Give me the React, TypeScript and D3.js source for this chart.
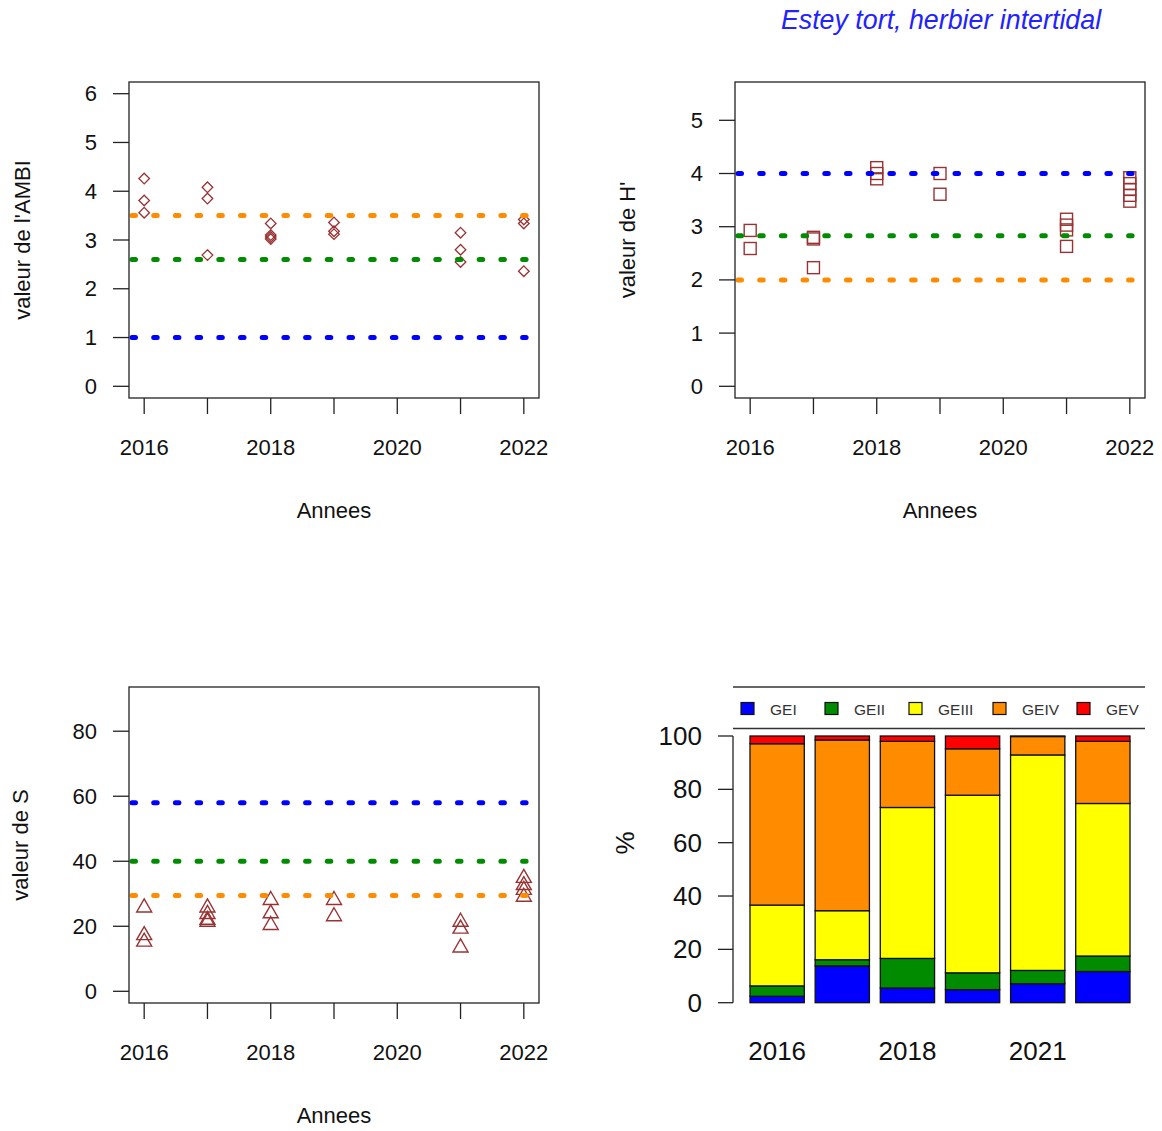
import React from "react";
import * as d3 from "d3";

// ---------- DATA ----------
const ambiYears = [2016, 2016, 2016, 2017, 2017, 2017, 2018, 2018, 2018, 2018, 2019, 2019, 2019, 2021, 2021, 2021, 2022, 2022, 2022];
const ambiValues = [4.26, 3.81, 3.56, 4.08, 3.85, 2.69, 3.34, 3.10, 3.06, 3.02, 3.36, 3.18, 3.12, 3.15, 2.80, 2.55, 3.42, 3.34, 2.36];
const ambiRefs = [3.5, 2.6, 1.0];

const hYears = [2016, 2016, 2017, 2017, 2017, 2018, 2018, 2018, 2019, 2019, 2021, 2021, 2021, 2021, 2022, 2022, 2022, 2022, 2022];
const hValues = [2.93, 2.59, 2.80, 2.77, 2.23, 4.11, 4.00, 3.90, 4.00, 3.61, 3.14, 3.03, 2.94, 2.63, 3.92, 3.81, 3.70, 3.59, 3.48];
const hRefs = [4.0, 2.83, 2.0];

const sYears = [2016, 2016, 2016, 2017, 2017, 2017, 2017, 2018, 2018, 2018, 2019, 2019, 2021, 2021, 2021, 2022, 2022, 2022, 2022];
const sValues = [26.0, 17.5, 15.5, 26.0, 24.0, 22.2, 21.6, 28.3, 24.2, 20.6, 28.3, 23.3, 21.6, 19.5, 13.7, 35.1, 32.9, 31.4, 29.3];
const sRefs = [58, 40, 29.5];

const refColors = ["#FF8C00", "#008B00", "#0000FF"]; // AMBI order
const hRefColors = ["#0000FF", "#008B00", "#FF8C00"];
const sRefColors = ["#0000FF", "#008B00", "#FF8C00"];

const scatterYearTicks = [2016, 2017, 2018, 2019, 2020, 2021, 2022];
const scatterYearLabels = [2016, 2018, 2020, 2022];

const barYears = ["2016", "2017", "2018", "2019", "2021", "2022"];
const groupNames = ["GEI", "GEII", "GEIII", "GEIV", "GEV"];
const groupColors = ["#0000FF", "#008B00", "#FFFF00", "#FF8C00", "#FF0000"];
const GEI = [2.4, 13.8, 5.5, 4.9, 7.1, 11.7];
const GEII = [3.9, 2.3, 11.1, 6.3, 5.0, 5.8];
const GEIII = [30.3, 18.4, 56.6, 66.6, 80.8, 57.2];
const GEIV = [60.5, 64.0, 24.8, 17.4, 6.9, 23.3];
const GEV = [2.9, 1.5, 2.0, 4.8, 0.2, 2.0];
const barTicks = [0, 20, 40, 60, 80, 100];

const title = "Estey tort, herbier intertidal";

// ---------- STYLE ----------
const FONT = "'Liberation Sans', Arial, sans-serif";
const PT = "#993333";
const AX = "#222";
const FS = 22;

type Box = { left: number; right: number; top: number; bottom: number };

function Marker({ shape, x, y }: { shape: string; x: number; y: number }) {
  if (shape === "diamond") {
    const r = 5.3;
    return <path d={`M${x},${y - r}L${x + r},${y}L${x},${y + r}L${x - r},${y}Z`} fill="none" stroke={PT} strokeWidth={1.3} />;
  }
  if (shape === "square") {
    const r = 6;
    return <rect x={x - r} y={y - r} width={2 * r} height={2 * r} fill="none" stroke={PT} strokeWidth={1.4} />;
  }
  const w = 7.5, h = 13;
  return <path d={`M${x},${y - h * 0.6}L${x + w},${y + h * 0.4}L${x - w},${y + h * 0.4}Z`} fill="none" stroke={PT} strokeWidth={1.4} />;
}

function Scatter(props: {
  box: Box; yDomain: [number, number]; yTicks: number[]; years: number[]; values: number[];
  shape: string; refs: number[]; refCols: string[]; ylabel: string; ylabelX: number;
}) {
  const { box, yDomain, yTicks, years, values, shape, refs, refCols, ylabel, ylabelX } = props;
  const x = d3.scaleLinear().domain([2015.76, 2022.24]).range([box.left, box.right]);
  const y = d3.scaleLinear().domain(yDomain).range([box.bottom, box.top]);
  const cx = (box.left + box.right) / 2;
  const cy = (box.top + box.bottom) / 2;
  return (
    <g fontFamily={FONT}>
      {years.map((yr, i) => (
        <Marker key={i} shape={shape} x={x(yr)} y={y(values[i])} />
      ))}
      {refs.map((v, i) => (
        <line key={i} x1={box.left + 3} x2={box.right} y1={y(v)} y2={y(v)} stroke={refCols[i]} strokeWidth={5}
          strokeDasharray="3.5 18.2" strokeLinecap="round" />
      ))}
      <rect x={box.left} y={box.top} width={box.right - box.left} height={box.bottom - box.top} fill="none" stroke={AX} strokeWidth={1.3} />
      {scatterYearTicks.map((t) => (
        <line key={t} x1={x(t)} x2={x(t)} y1={box.bottom} y2={box.bottom + 16} stroke={AX} strokeWidth={1.3} />
      ))}
      {scatterYearLabels.map((t) => (
        <text key={t} x={x(t)} y={box.bottom + 49} textAnchor="middle" dominantBaseline="central" fontSize={FS} fill="#111">{t}</text>
      ))}
      {yTicks.map((t) => (
        <g key={t}>
          <line x1={box.left - 16} x2={box.left} y1={y(t)} y2={y(t)} stroke={AX} strokeWidth={1.3} />
          <text x={box.left - 32} y={y(t)} textAnchor="end" dominantBaseline="central" fontSize={FS} fill="#111">{t}</text>
        </g>
      ))}
      <text x={cx} y={box.bottom + 112} textAnchor="middle" dominantBaseline="central" fontSize={FS} fill="#111">Annees</text>
      <text transform={`translate(${ylabelX},${cy}) rotate(-90)`} textAnchor="middle" dominantBaseline="central" fontSize={FS} fill="#111">{ylabel}</text>
    </g>
  );
}

function Bars() {
  const series = [GEI, GEII, GEIII, GEIV, GEV];
  const table = barYears.map((yr, i) => {
    const o: any = { year: yr };
    groupNames.forEach((g, j) => (o[g] = series[j][i]));
    return o;
  });
  const stacked = d3.stack().keys(groupNames)(table);
  const xLin = d3.scaleLinear().domain([-0.08, 7.48]).range([734.8, 1145.2]);
  const y = d3.scaleLinear().domain([0, 100]).range([1002.7, 736]);
  const bw = xLin(1) - xLin(0);
  const left = (i: number) => xLin(0.2 + 1.2 * i);
  const legX = d3.scaleLinear().domain([0, 1]).range([741, 825]);
  return (
    <g fontFamily={FONT}>
      {stacked.map((s, j) =>
        s.map((d, i) => (
          <rect key={`${j}-${i}`} x={left(i)} y={y(d[1])} width={bw} height={Math.max(0, y(d[0]) - y(d[1]))}
            fill={groupColors[j]} stroke="#111" strokeWidth={1.3} />
        ))
      )}
      <line x1={733} x2={733} y1={y(0)} y2={y(100)} stroke={AX} strokeWidth={1.3} />
      {barTicks.map((t) => (
        <g key={t}>
          <line x1={718} x2={733} y1={y(t)} y2={y(t)} stroke={AX} strokeWidth={1.3} />
          <text x={702} y={y(t)} textAnchor="end" dominantBaseline="central" fontSize={26} fill="#111">{t}</text>
        </g>
      ))}
      {barYears.map((yr, i) =>
        i % 2 === 0 ? (
          <text key={yr} x={left(i) + bw / 2} y={1051} textAnchor="middle" dominantBaseline="central" fontSize={26} fill="#111">{yr}</text>
        ) : null
      )}
      <text transform="translate(625,843) rotate(-90)" textAnchor="middle" dominantBaseline="central" fontSize={26} fill="#111">%</text>
      <line x1={733} x2={1145} y1={687} y2={687} stroke="#333" strokeWidth={1.5} />
      <line x1={733} x2={1145} y1={728.5} y2={728.5} stroke="#333" strokeWidth={1.5} />
      {groupNames.map((g, j) => (
        <g key={g}>
          <rect x={legX(j)} y={702.5} width={13} height={12} fill={groupColors[j]} stroke="#111" strokeWidth={1.2} />
          <text x={legX(j) + 29} y={709} dominantBaseline="central" fontSize={15.5} fill="#333">{g}</text>
        </g>
      ))}
    </g>
  );
}

export default function App() {
  return (
    <svg width={1162} height={1131} style={{ position: "absolute", left: 0, top: 0, background: "#fff" }}>
      <rect width={1162} height={1131} fill="#fff" />
      <text x={941} y={29} textAnchor="middle" fontFamily={FONT} fontStyle="italic" fontSize={26.8} fill="#2222FF">{title}</text>
      <Scatter box={{ left: 129, right: 539, top: 82, bottom: 398 }} yDomain={[-0.24, 6.24]} yTicks={[0, 1, 2, 3, 4, 5, 6]}
        years={ambiYears} values={ambiValues} shape="diamond" refs={ambiRefs} refCols={refColors} ylabel="valeur de l'AMBI" ylabelX={22} />
      <Scatter box={{ left: 735, right: 1145, top: 82, bottom: 398 }} yDomain={[-0.22, 5.72]} yTicks={[0, 1, 2, 3, 4, 5]}
        years={hYears} values={hValues} shape="square" refs={hRefs} refCols={hRefColors} ylabel="valeur de H'" ylabelX={627} />
      <Scatter box={{ left: 129, right: 539, top: 687, bottom: 1003 }} yDomain={[-3.6, 93.6]} yTicks={[0, 20, 40, 60, 80]}
        years={sYears} values={sValues} shape="triangle" refs={sRefs} refCols={sRefColors} ylabel="valeur de S" ylabelX={20} />
      <Bars />
    </svg>
  );
}
